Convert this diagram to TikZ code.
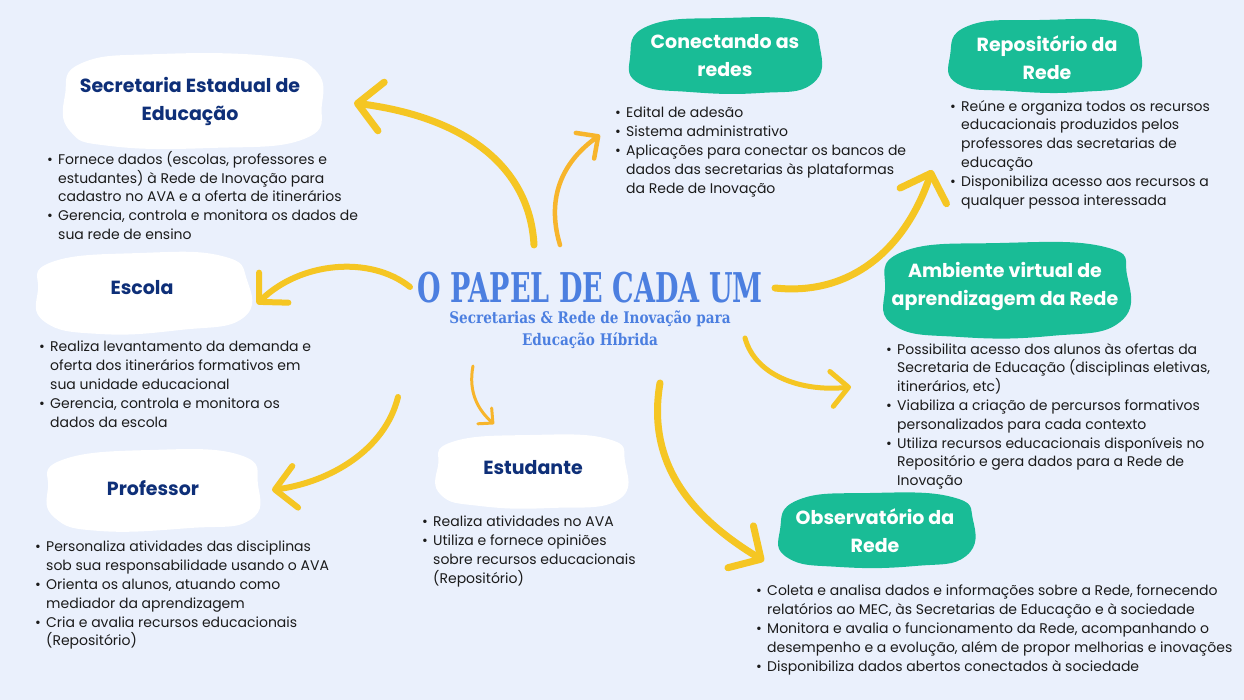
\documentclass[tikz,border=0pt]{standalone}
\usepackage{fontspec}
\setmainfont{Poppins}
\newfontfamily\titlef{DejaVu Serif}
\usetikzlibrary{arrows.meta}
\definecolor{bg}{HTML}{EAF0FC}
\definecolor{navy}{HTML}{0E2F78}
\definecolor{tealc}{HTML}{19BC96}
\definecolor{ylw}{HTML}{F5C623}
\definecolor{org}{HTML}{F7B52C}
\definecolor{ttl}{HTML}{4C7FE0}
\definecolor{txt}{HTML}{1B1B1B}
\newcommand{\bu}{\makebox[11pt][l]{•}}
\newcommand{\ii}{\hspace*{11pt}}
\tikzset{
  body/.style={anchor=north west, inner sep=0pt, align=left, text=txt, font=\fontsize{14}{18.8}\selectfont},
  head/.style={align=center, inner sep=0pt, font=\fontsize{19}{28}\selectfont\bfseries},
  whead/.style={head, text=white},
  nhead/.style={head, text=navy},
  wblob/.style={fill=white},
  tblob/.style={fill=tealc},
  yarr/.style={draw=ylw, line width=#1, line cap=round, -{Straight Barb[length=#1*3.4, width=#1*7, round]}},
  oarr/.style={draw=org, line width=#1, line cap=round, -{Straight Barb[length=#1*3.6, width=#1*7, round]}}
}
\begin{document}
\begin{tikzpicture}[x=1pt,y=-1pt]
\fill[bg] (0,0) rectangle (1244,700);
\useasboundingbox (0,0) rectangle (1244,700);

% blobs
\path[wblob] plot[smooth cycle, tension=0.8] coordinates {(82,63) (160,54) (270,56) (314,69) (322,104) (304,139) (210,148) (110,146) (70,131) (65,95)};
\path[wblob] plot[smooth cycle, tension=0.8] coordinates {(52,262) (140,253) (222,256) (247,280) (243,318) (180,330) (100,334) (45,322) (38,290)};
\path[wblob] plot[smooth cycle, tension=0.8] coordinates {(62,460) (150,450) (240,455) (258,485) (250,520) (190,528) (100,531) (55,518) (48,488)};
\path[wblob] plot[smooth cycle, tension=0.8] coordinates {(452,442) (530,435) (608,439) (625,462) (618,500) (550,508) (480,506) (441,495) (438,466)};
\path[tblob] plot[smooth cycle, tension=0.8] coordinates {(648,26) (725,18) (800,22) (820,48) (812,84) (760,93) (690,92) (640,84) (630,58)};
\path[tblob] plot[smooth cycle, tension=0.8] coordinates {(968,26) (1040,20) (1120,23) (1140,48) (1132,82) (1080,92) (1010,91) (958,84) (950,56)};
\path[tblob] plot[smooth cycle, tension=0.8] coordinates {(902,252) (1000,243) (1105,247) (1127,275) (1120,322) (1050,336) (960,337) (895,326) (885,290)};
\path[tblob] plot[smooth cycle, tension=0.8] coordinates {(798,500) (870,493) (952,497) (973,520) (966,556) (915,566) (840,567) (788,558) (780,530)};

% headings
\node[nhead] (sec) at (190,101) {Secretaria Estadual de\\Educação};
\node[nhead] (esc) at (142,288) {Escola};
\node[nhead] (prof) at (153,488) {Professor};
\node[nhead] (est) at (533,468) {Estudante};
\node[whead] (con) at (725,56) {Conectando as\\redes};
\node[whead] (rep) at (1047,58) {Repositório da\\Rede};
\node[whead] (ava) at (1005,287) {Ambiente virtual de\\aprendizagem da Rede};
\node[whead] (obs) at (875,531) {Observatório da\\Rede};

% title
\node[text=ttl, inner sep=0pt, font=\titlef\bfseries\fontsize{41}{41}\selectfont] (title) at (590,288) {\scalebox{0.66}[1]{O PAPEL DE CADA UM}};
\node[text=ttl, inner sep=0pt, align=center, font=\titlef\bfseries\fontsize{16}{22}\selectfont] (sub) at (590,330) {\scalebox{0.85}[1]{Secretarias \& Rede de Inovação para}\\\scalebox{0.85}[1]{Educação Híbrida}};

% bodies
\node[body] (secb) at (47,151) {\bu Fornece dados (escolas, professores e\\\ii estudantes) à Rede de Inovação para\\\ii cadastro no AVA e a oferta de itinerários\\\bu Gerencia, controla e monitora os dados de\\\ii sua rede de ensino};
\node[body] (escb) at (39,341) {\bu Realiza levantamento da demanda e\\\ii oferta dos itinerários formativos em\\\ii sua unidade educacional\\\bu Gerencia, controla e monitora os\\\ii dados da escola};
\node[body] (profb) at (35,541) {\bu Personaliza atividades das disciplinas\\\ii sob sua responsabilidade usando o AVA\\\bu Orienta os alunos, atuando como\\\ii mediador da aprendizagem\\\bu Cria e avalia recursos educacionais\\\ii (Repositório)};
\node[body] (estb) at (422,516) {\bu Realiza atividades no AVA\\\bu Utiliza e fornece opiniões\\\ii sobre recursos educacionais\\\ii (Repositório)};
\node[body] (conb) at (615,107) {\bu Edital de adesão\\\bu Sistema administrativo\\\bu Aplicações para conectar os bancos de\\\ii dados das secretarias às plataformas\\\ii da Rede de Inovação};
\node[body] (repb) at (950,100) {\bu Reúne e organiza todos os recursos\\\ii educacionais produzidos pelos\\\ii professores das secretarias de\\\ii educação\\\bu Disponibiliza acesso aos recursos a\\\ii qualquer pessoa interessada};
\node[body] (avab) at (886,343) {\bu Possibilita acesso dos alunos às ofertas da\\\ii Secretaria de Educação (disciplinas eletivas,\\\ii itinerários, etc)\\\bu Viabiliza a criação de percursos formativos\\\ii personalizados para cada contexto\\\bu Utiliza recursos educacionais disponíveis no\\\ii Repositório e gera dados para a Rede de\\\ii Inovação};
\node[body] (obsb) at (756,585) {\bu Coleta e analisa dados e informações sobre a Rede, fornecendo\\\ii relatórios ao MEC, às Secretarias de Educação e à sociedade\\\bu Monitora e avalia o funcionamento da Rede, acompanhando o\\\ii desempenho e a evolução, além de propor melhorias e inovações\\\bu Disponibiliza dados abertos conectados à sociedade};

% arrow coordinates
\coordinate (a1s) at (534,245); \coordinate (a1e) at (354,103);
\coordinate (a2s) at (560,245); \coordinate (a2e) at (600,135);
\coordinate (a3s) at (410,287); \coordinate (a3e) at (257,304);
\coordinate (a4s) at (398,397); \coordinate (a4e) at (272,490);
\coordinate (a5s) at (473,366); \coordinate (a5e) at (494,424);
\coordinate (a6s) at (660,383); \coordinate (a6e) at (764,561);
\coordinate (a7s) at (745,338); \coordinate (a7e) at (851,387);
\coordinate (a8s) at (775,288); \coordinate (a8e) at (932,170);

\draw[yarr=7pt] (a1s) .. controls (530,170) and (470,118) .. (a1e);
\draw[oarr=4.5pt] (a2s) .. controls (545,195) and (565,160) .. (a2e);
\draw[yarr=6pt] (a3s) .. controls (370,255) and (300,262) .. (a3e);
\draw[yarr=6pt] (a4s) .. controls (385,450) and (330,482) .. (a4e);
\draw[oarr=3pt] (a5s) .. controls (468,392) and (478,410) .. (a5e);
\draw[yarr=7pt] (a6s) .. controls (645,470) and (700,522) .. (a6e);
\draw[yarr=5pt] (a7s) .. controls (755,375) and (800,392) .. (a7e);
\draw[yarr=7pt] (a8s) .. controls (850,296) and (905,250) .. (a8e);
\end{tikzpicture}
\end{document}
